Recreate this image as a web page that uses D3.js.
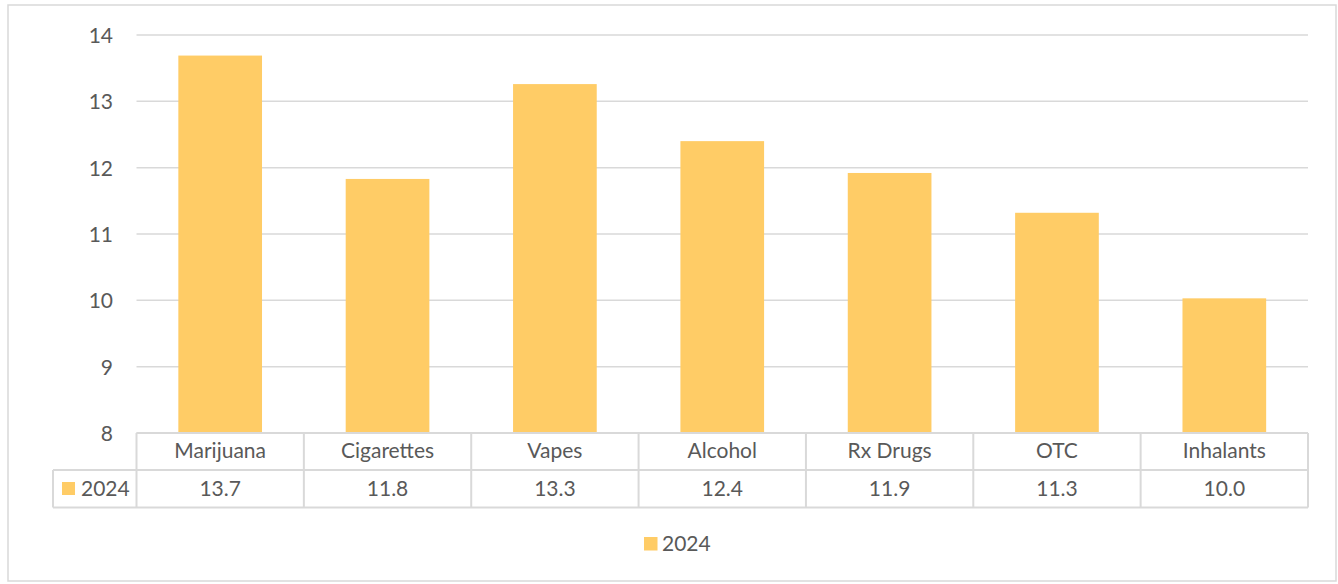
<!DOCTYPE html>
<html><head><meta charset="utf-8">
<script src="https://cdn.jsdelivr.net/npm/d3@7"></script>
<style>
html,body{margin:0;padding:0;background:#fff;}
svg{display:block;font-family:Lato,"Open Sans",sans-serif;}
</style></head>
<body>
<svg id="chart" width="1338" height="584"></svg>
<script>
const categories = ["Marijuana","Cigarettes","Vapes","Alcohol","Rx Drugs","OTC","Inhalants"];
const seriesName = "2024";
const values2024 = [13.69, 11.83, 13.26, 12.40, 11.92, 11.32, 10.03];
const yTicks = [8, 9, 10, 11, 12, 13, 14];

const svg = d3.select("#chart");
const color = "#FFCC66", gridColor = "#D9D9D9", textColor = "#595959";
const fs = "21px";
const plot = {left: 136.5, right: 1308, top: 35, bottom: 433};

// outer border
svg.append("rect").attr("x", 8).attr("y", 5).attr("width", 1328).attr("height", 576)
  .attr("fill", "#fff").attr("stroke", gridColor).attr("stroke-width", 1.5);

const x = d3.scaleBand().domain(categories).range([plot.left, plot.right]).paddingInner(0).paddingOuter(0);
const y = d3.scaleLinear().domain([8, 14]).range([plot.bottom, plot.top]);

// gridlines
svg.append("g").selectAll("line").data(yTicks).join("line")
  .attr("x1", plot.left).attr("x2", plot.right)
  .attr("y1", d => y(d)).attr("y2", d => y(d))
  .attr("stroke", gridColor).attr("stroke-width", 1.5);

// y axis labels
const yAxis = d3.axisLeft(y).tickValues(yTicks).tickSize(0).tickPadding(0).tickFormat(d3.format("d"));
const gy = svg.append("g").attr("transform", `translate(113,0)`).call(yAxis);
gy.select(".domain").remove();
gy.selectAll("text").attr("fill", textColor).style("font-size", fs).style("font-family", "Lato,'Open Sans',sans-serif").attr("dy", "0.35em");

// bars
const bw = x.bandwidth() * 0.5;
svg.append("g").selectAll("rect").data(values2024).join("rect")
  .attr("x", (d, i) => x(categories[i]) + (x.bandwidth() - bw) / 2)
  .attr("width", bw)
  .attr("y", d => y(d))
  .attr("height", d => y(8) - y(d))
  .attr("fill", color);

// data table
const row1Top = plot.bottom, row1Bot = 470, row2Bot = 507.5, tableLeft = 53;
const tg = svg.append("g");
function line(x1, y1, x2, y2) {
  tg.append("line").attr("x1", x1).attr("y1", y1).attr("x2", x2).attr("y2", y2)
    .attr("stroke", gridColor).attr("stroke-width", 2);
}
line(plot.left, row1Top, plot.right, row1Top);
line(tableLeft, row1Bot, plot.right, row1Bot);
line(tableLeft, row2Bot, plot.right, row2Bot);
line(tableLeft, row1Bot, tableLeft, row2Bot);
categories.forEach(c => line(x(c), row1Top, x(c), row2Bot));
line(plot.right, row1Top, plot.right, row2Bot);

// category labels
tg.selectAll("text.cat").data(categories).join("text").attr("class", "cat")
  .attr("x", d => x(d) + x.bandwidth() / 2).attr("y", (row1Top + row1Bot) / 2 - 1)
  .attr("text-anchor", "middle").attr("dy", "0.35em")
  .attr("fill", textColor).style("font-size", fs).text(d => d);
// values
tg.selectAll("text.val").data(values2024).join("text").attr("class", "val")
  .attr("x", (d, i) => x(categories[i]) + x.bandwidth() / 2).attr("y", (row1Bot + row2Bot) / 2)
  .attr("text-anchor", "middle").attr("dy", "0.35em")
  .attr("fill", textColor).style("font-size", fs).text(d => d.toFixed(1));
// series key in table
tg.append("rect").attr("x", 62).attr("y", 482).attr("width", 13).attr("height", 13).attr("fill", color);
tg.append("text").attr("x", 81).attr("y", (row1Bot + row2Bot) / 2).attr("dy", "0.35em")
  .attr("fill", textColor).style("font-size", fs).text(seriesName);

// legend
const lg = svg.append("g");
lg.append("rect").attr("x", 644).attr("y", 537).attr("width", 13.5).attr("height", 13.5).attr("fill", color);
lg.append("text").attr("x", 662).attr("y", 544).attr("dy", "0.35em")
  .attr("fill", textColor).style("font-size", fs).text(seriesName);
</script>
</body></html>
